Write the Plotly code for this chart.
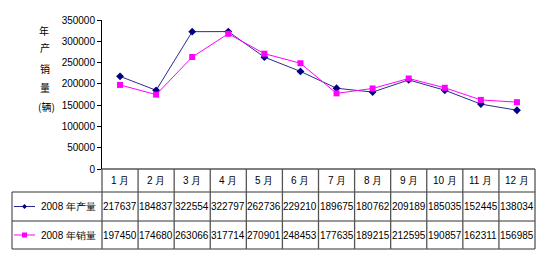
import plotly.graph_objects as go

months = ["1 月", "2 月", "3 月", "4 月", "5 月", "6 月", "7 月", "8 月", "9 月", "10 月", "11 月", "12 月"]
production = [217637, 184837, 322554, 322797, 262736, 229210, 189675, 180762, 209189, 185035, 152445, 138034]
sales = [197450, 174680, 263066, 317714, 270901, 248453, 177635, 189215, 212595, 190857, 162311, 156985]
series_names = ["2008 年产量", "2008 年销量"]
ytitle_chars = ["年", "产", "销", "量", "(辆)"]

W, H = 554, 280
ML, MR, MT, MB = 102, 19, 20, 111
PW, PH = W - ML - MR, H - MT - MB

def px(x):
    return (x - ML) / PW

def py(y):
    return (H - MB - y) / PH

fig = go.Figure()
fig.add_trace(go.Scatter(x=list(range(12)), y=production, mode="lines+markers",
                         line=dict(color="#2a2a8c", width=1),
                         marker=dict(symbol="diamond", size=6, color="#000080"),
                         showlegend=False))
fig.add_trace(go.Scatter(x=list(range(12)), y=sales, mode="lines+markers",
                         line=dict(color="#ff00ff", width=1),
                         marker=dict(symbol="square", size=6, color="#ff00ff"),
                         showlegend=False))

font = "Liberation Sans, Arial, sans-serif"
shapes = []
annotations = []

def ann(**kw):
    d = dict(showarrow=False, xanchor="center", yanchor="middle")
    d.update(kw)
    annotations.append(d)

line_col = "#333333"
y_top, y_hdr, y_r1, y_r2 = 169, 192, 221, 249
x_lab = 12
shapes.append(dict(type="line", xref="paper", yref="paper", x0=0, x1=1, y0=py(y_top), y1=py(y_top),
                   line=dict(color="#808080", width=2)))
for yy in [y_hdr, y_r1, y_r2]:
    shapes.append(dict(type="line", xref="paper", yref="paper", x0=px(x_lab), x1=1, y0=py(yy), y1=py(yy),
                       line=dict(color=line_col, width=1)))
shapes.append(dict(type="line", xref="paper", yref="paper", x0=px(x_lab), x1=px(x_lab), y0=py(y_hdr), y1=py(y_r2),
                   line=dict(color=line_col, width=1)))
for i in range(13):
    xp = i / 12
    shapes.append(dict(type="line", xref="paper", yref="paper", x0=xp, x1=xp, y0=py(y_top), y1=py(y_r2),
                       line=dict(color="#555555", width=1.3)))

for i, m in enumerate(months):
    ann(x=i, y=py((y_top + y_hdr) / 2), xref="x", yref="paper", text=m,
        font=dict(family=font, size=10, color="black"))
for row, (vals, yc) in enumerate([(production, (y_hdr + y_r1) / 2), (sales, (y_r1 + y_r2) / 2)]):
    for i, v in enumerate(vals):
        ann(x=i, y=py(yc), xref="x", yref="paper", text=str(v),
            font=dict(family=font, size=10, color="black"))
    ann(x=px(39), y=py(yc), xref="paper", yref="paper", xanchor="left", text=series_names[row],
        font=dict(family=font, size=10, color="black"))

yc1 = py((y_hdr + y_r1) / 2)
yc2 = py((y_r1 + y_r2) / 2)
shapes.append(dict(type="line", xref="paper", yref="paper", x0=px(14), x1=px(35), y0=yc1, y1=yc1,
                   line=dict(color="#2a2a8c", width=1)))
shapes.append(dict(type="line", xref="paper", yref="paper", x0=px(14), x1=px(35), y0=yc2, y1=yc2,
                   line=dict(color="#ff00ff", width=1)))
cx, cy = 24.5, (y_hdr + y_r1) / 2
shapes.append(dict(type="path", xref="paper", yref="paper",
                   path=f"M {px(cx-2.5)} {py(cy)} L {px(cx)} {py(cy-2.5)} L {px(cx+2.5)} {py(cy)} L {px(cx)} {py(cy+2.5)} Z",
                   fillcolor="#000080", line=dict(color="#000080", width=0)))
cy2 = (y_r1 + y_r2) / 2
shapes.append(dict(type="rect", xref="paper", yref="paper", x0=px(cx-2.5), x1=px(cx+2.5), y0=py(cy2+2.5), y1=py(cy2-2.5),
                   fillcolor="#ff00ff", line=dict(color="#ff00ff", width=0)))

ypos = [30, 48, 68, 87, 107]
xpos = [44, 45, 45, 45, 47]
for ch, yy, xx in zip(ytitle_chars, ypos, xpos):
    ann(x=px(xx), y=py(yy), xref="paper", yref="paper", text=ch,
        font=dict(family="Noto Sans CJK SC", size=10, color="black"))

fig.update_layout(
    width=W, height=H, margin=dict(l=ML, r=MR, t=MT, b=MB),
    paper_bgcolor="white", plot_bgcolor="white",
    xaxis=dict(range=[-0.5, 11.5], showticklabels=False, showgrid=False, zeroline=False, showline=False, ticks=""),
    yaxis=dict(range=[0, 350000], tickvals=[0, 50000, 100000, 150000, 200000, 250000, 300000, 350000],
               ticktext=["0", "50000", "100000", "150000", "200000", "250000", "300000", "350000"],
               showgrid=False, zeroline=False, showline=True, linecolor="black", linewidth=1,
               ticks="outside", ticklen=4, tickcolor="black",
               tickfont=dict(family=font, size=10, color="black")),
    shapes=shapes, annotations=annotations,
)
fig.write_html("out.html")
